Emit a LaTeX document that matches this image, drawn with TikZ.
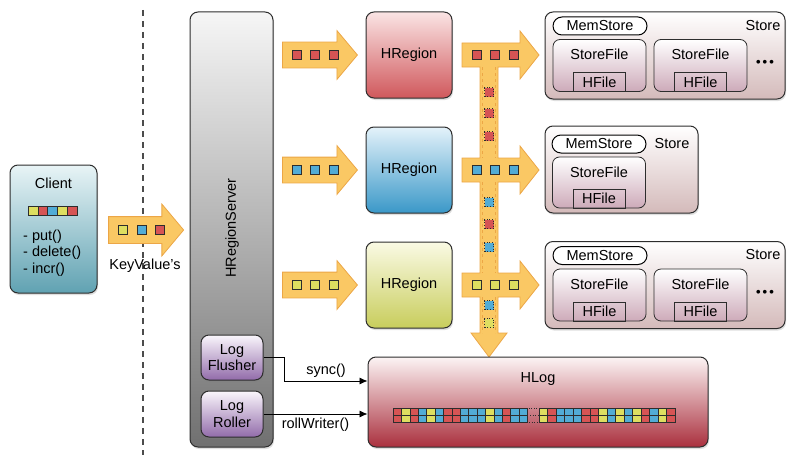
\documentclass[tikz,border=0pt]{standalone}
\usepackage{fontspec}
\setmainfont{Liberation Sans}
\usetikzlibrary{arrows.meta,shapes.arrows,shadows}

\definecolor{kvR}{RGB}{214,84,84}
\definecolor{kvB}{RGB}{82,172,214}
\definecolor{kvY}{RGB}{222,222,96}
\definecolor{arrowfill}{RGB}{250,200,100}
\definecolor{arrowline}{RGB}{236,166,70}
\definecolor{edge}{RGB}{45,45,45}
\definecolor{clienttop}{RGB}{232,244,246}
\definecolor{clientbot}{RGB}{96,162,178}
\definecolor{hrstop}{RGB}{246,246,246}
\definecolor{hrsbot}{RGB}{112,112,112}
\definecolor{logtop}{RGB}{250,246,252}
\definecolor{logbot}{RGB}{146,108,170}
\definecolor{redtop}{RGB}{250,228,228}
\definecolor{redbot}{RGB}{208,88,92}
\definecolor{bluetop}{RGB}{228,242,250}
\definecolor{bluebot}{RGB}{58,152,200}
\definecolor{yellowtop}{RGB}{250,250,228}
\definecolor{yellowbot}{RGB}{200,205,92}
\definecolor{storebot}{RGB}{212,186,186}
\definecolor{filebot}{RGB}{205,170,185}
\definecolor{hlogtop}{RGB}{252,244,244}
\definecolor{hlogbot}{RGB}{170,48,62}

\begin{document}
\begin{tikzpicture}[
  x=1pt,y=-1pt,
  font=\fontsize{14.5}{16.5}\selectfont,
  box/.style={draw=edge,line width=1pt,rounded corners=8pt,
    drop shadow={opacity=0.25,shadow xshift=1pt,shadow yshift=-2pt}},
  region/.style={box,minimum width=86pt,minimum height=86pt},
  store/.style={box,minimum height=87pt,top color=white,bottom color=storebot},
  storefile/.style={draw=edge,line width=0.8pt,rounded corners=7pt,minimum width=93pt,
    minimum height=52pt,top color=white,bottom color=filebot},
  hfile/.style={draw=edge,line width=0.8pt,minimum width=52pt,minimum height=19pt,inner sep=0pt,anchor=south},
  memstore/.style={draw=black,line width=1pt,fill=white,rounded corners=9pt,minimum width=94pt,
    minimum height=18pt,inner sep=0pt},
  logbox/.style={box,minimum width=62pt,minimum height=45pt,align=center,inner sep=0pt,
    top color=logtop,bottom color=logbot},
  bigarrow/.style={single arrow,draw=arrowline,line width=0.8pt,fill=arrowfill,minimum height=75pt,
    inner xsep=0pt,inner ysep=12.5pt,single arrow head extend=11.5pt,single arrow tip angle=100},
  kv/.style={draw=edge,line width=0.7pt,minimum size=9pt,inner sep=0pt},
  dotkv/.style={kv,dotted},
  cell/.style={draw=edge,line width=0.6pt},
  link/.style={-{Latex[length=8pt,width=7pt]},line width=0.8pt}
]
\useasboundingbox (0,0) rectangle (799,460);

% client side
\draw[gray!60!black,line width=1.2pt,dash pattern=on 6pt off 5pt] (143,10) -- (143,455);
\node[box,top color=clienttop,bottom color=clientbot,minimum width=87pt,minimum height=128pt] (client) at (53.5,229) {};
\node (clientname) at (53.5,183) {Client};
\foreach \c [count=\i from 0] in {Y,R,B,Y,R}
  \draw[cell,fill=kv\c] (28+\i*9.8,206) rectangle ++(9.8,9);
\node[anchor=west,align=left,inner sep=0pt] (ops) at (23,253) {- put()\\- delete()\\- incr()};
\node[bigarrow,inner ysep=13pt,single arrow head extend=12.5pt] (kvarrow) at (140.5,230) {};
\foreach \c [count=\i from 0] in {Y,B,R} \node[kv,fill=kv\c] at (123+\i*18.5,230) {};
\node (kvlabel) at (145,266) {KeyValue's};

% region server
\node[box,top color=hrstop,bottom color=hrsbot,minimum width=83pt,minimum height=435pt] (hrs) at (231.5,229.5) {};
\node[rotate=90] (hrsname) at (232,228) {HRegionServer};
\node[logbox] (flusher) at (232,357.5) {Log\\Flusher};
\node[logbox,minimum height=46pt] (roller) at (232,414) {Log\\Roller};

% regions
\foreach \n/\y/\c/\k in {1/55/red/R,2/170/blue/B,3/285/yellow/Y}{
  \node[bigarrow] (in\n) at (314.5,\y) {};
  \foreach \x in {297,315,334} \node[kv,fill=kv\k] at (\x,\y) {};
  \node[region,top color=\c top,bottom color=\c bot] (region\n) at (409,\y) {HRegion};
}

% write path to the stores and the log
\draw[arrowline,line width=0.8pt,fill=arrowfill]
  (462,43) -- (520,43) -- (520,31) -- (539,55) -- (520,79) -- (520,67) -- (498,67)
  -- (498,158) -- (520,158) -- (520,146) -- (539,170) -- (520,194) -- (520,182) -- (498,182)
  -- (498,273) -- (520,273) -- (520,261) -- (539,285) -- (520,309) -- (520,297) -- (498,297)
  -- (498,333) -- (507,333) -- (489,357) -- (471,333) -- (480,333)
  -- (480,297) -- (462,297) -- (462,273) -- (480,273)
  -- (480,182) -- (462,182) -- (462,158) -- (480,158)
  -- (480,67) -- (462,67) -- cycle;
\foreach \a/\b in {67/158,182/273,297/333}
  \draw[arrowline,dashed,line width=0.6pt] (482.5,\a) -- (482.5,\b) (495.5,\a) -- (495.5,\b);
\foreach \y/\k in {55/R,170/B,285/Y}
  \foreach \x in {477,495,514} \node[kv,fill=kv\k] at (\x,\y) {};
\foreach \y/\k in {92/R,113/R,136/R,202/B,224/R,247/B,305/B,323/Y}
  \node[dotkv,fill=kv\k] at (489,\y) {};

% stores
\foreach \n/\y in {1/55.5,3/285}{
  \node[store,minimum width=240pt] (store\n) at (665,\y) {};
  \node[memstore] (mem\n) at (600,\y-29.5) {MemStore};
  \node (storename\n) at (763,\y-30) {Store};
  \node[storefile,label={[anchor=north,inner sep=0pt,yshift=-10pt]north:StoreFile}] (fileA\n) at (599.5,\y+10) {};
  \node[hfile] (hfileA\n) at (fileA\n.south) {HFile};
  \node[storefile,label={[anchor=north,inner sep=0pt,yshift=-10pt]north:StoreFile}] (fileB\n) at (700.5,\y+10) {};
  \node[hfile] (hfileB\n) at (fileB\n.south) {HFile};
  \node[font=\fontsize{13}{14}\selectfont\bfseries] (more\n) at (765,\y+8) {\textbullet\,\textbullet\,\textbullet};
}
\node[store,minimum width=153pt] (store2) at (621.5,169.5) {};
\node[memstore] (mem2) at (599,144) {MemStore};
\node (storename2) at (672,144) {Store};
\node[storefile,minimum height=51pt,label={[anchor=north,inner sep=0pt,yshift=-10pt]north:StoreFile}] (fileA2) at (599,182.5) {};
\node[hfile] (hfileA2) at (fileA2.south) {HFile};

% log
\node[box,top color=hlogtop,bottom color=hlogbot,minimum width=340pt,minimum height=90pt,
  label={[anchor=north,inner sep=0pt,yshift=-16pt]north:HLog}] (hlog) at (538,402) {};
\foreach \c [count=\i from 0] in {R,Y,R,B,Y,B,R,R,B,B,B,Y,B,R,B,B}
  \draw[cell,fill=kv\c] (393+\i*8.4,408) rectangle ++(8.4,14);
\foreach \c [count=\i from 0] in {Y,R,B,B,B,R,R,Y,B,Y,B,Y,R,B,Y,R}
  \draw[cell,fill=kv\c] (539+\i*8.5,408) rectangle ++(8.5,14);
\draw[cell] (393,415) -- (527.4,415) (539,415) -- (675,415);
\draw[cell,dotted] (527.4,408) rectangle (539,422) (527.4,415) -- (539,415);
\draw[link] (flusher.east) -- ++(21,0) |- ([yshift=21pt]hlog.west) node[pos=0.75,above] {sync()};
\draw[link] (roller.east) -- (roller.east -| hlog.west) node[midway,below] {rollWriter()};
\end{tikzpicture}
\end{document}
